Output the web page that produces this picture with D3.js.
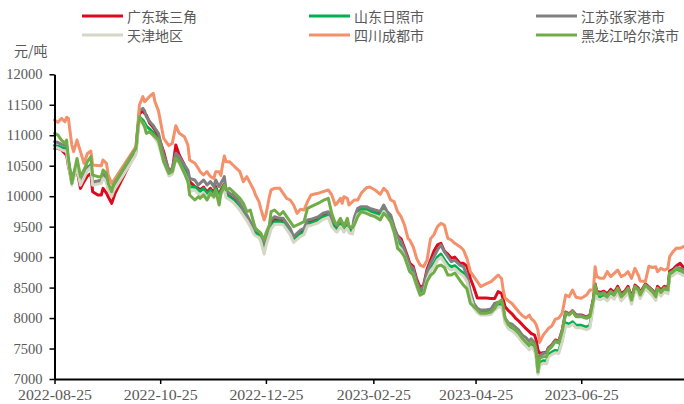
<!DOCTYPE html>
<html><head><meta charset="utf-8">
<script src="https://cdn.jsdelivr.net/npm/d3@7"></script>
<style>body{margin:0;background:#fff;} svg{display:block;}</style>
</head><body><svg id="c" width="684" height="404"></svg>
<script>
const dates = [
"2022-08-25","2022-08-27","2022-08-29","2022-08-31","2022-09-01","2022-09-02","2022-09-04","2022-09-05","2022-09-07","2022-09-09","2022-09-11","2022-09-13","2022-09-15","2022-09-16","2022-09-19","2022-09-21","2022-09-22","2022-09-24","2022-09-25","2022-09-27","2022-09-28","2022-09-29","2022-10-11","2022-10-12","2022-10-13","2022-10-15","2022-10-16","2022-10-17","2022-10-19","2022-10-21","2022-10-22","2022-10-24","2022-10-27","2022-10-30","2022-11-01","2022-11-03","2022-11-05","2022-11-08","2022-11-10","2022-11-11","2022-11-14","2022-11-16",
"2022-11-17","2022-11-19","2022-11-21","2022-11-23","2022-11-25","2022-11-26","2022-11-28","2022-11-29","2022-11-30","2022-12-01","2022-12-02","2022-12-04","2022-12-06","2022-12-08","2022-12-10","2022-12-12","2022-12-14","2022-12-16","2022-12-18","2022-12-19","2022-12-21","2022-12-22","2022-12-24","2022-12-25","2022-12-27","2022-12-28","2022-12-30","2023-01-02","2023-01-04","2023-01-06","2023-01-08","2023-01-10","2023-01-12","2023-01-14","2023-01-16","2023-01-18","2023-01-20","2023-01-24","2023-01-27","2023-01-30","2023-02-01","2023-02-03","2023-02-04","2023-02-06","2023-02-07","2023-02-08","2023-02-10","2023-02-11","2023-02-13",
"2023-02-14","2023-02-16","2023-02-18","2023-02-21","2023-02-23","2023-02-26","2023-03-01","2023-03-03","2023-03-05","2023-03-07","2023-03-09","2023-03-11","2023-03-13","2023-03-15","2023-03-17","2023-03-18","2023-03-20","2023-03-22","2023-03-24","2023-03-26","2023-03-28","2023-03-30","2023-04-01","2023-04-03","2023-04-05","2023-04-07","2023-04-09","2023-04-11","2023-04-13","2023-04-16","2023-04-18","2023-04-20","2023-04-22","2023-04-24","2023-04-26","2023-04-28","2023-05-01","2023-05-04","2023-05-06","2023-05-08",
"2023-05-10","2023-05-11","2023-05-12","2023-05-14","2023-05-16","2023-05-18","2023-05-20","2023-05-22","2023-05-24","2023-05-26","2023-05-27","2023-05-29","2023-05-30","2023-05-31","2023-06-01","2023-06-03","2023-06-05","2023-06-06","2023-06-08","2023-06-10","2023-06-12","2023-06-14","2023-06-16","2023-06-18","2023-06-20","2023-06-22","2023-06-25","2023-06-28","2023-06-30","2023-07-02","2023-07-03","2023-07-04","2023-07-06","2023-07-08","2023-07-10","2023-07-12","2023-07-14","2023-07-16","2023-07-18","2023-07-20","2023-07-22","2023-07-24","2023-07-26","2023-07-28","2023-07-29","2023-08-01","2023-08-03","2023-08-05","2023-08-07","2023-08-08","2023-08-10","2023-08-12","2023-08-14","2023-08-15","2023-08-17","2023-08-19","2023-08-21","2023-08-23"
];
const guangdong = [
10785,10785,10760,10700,10675,10500,10238,10320,10429,10128,10238,10330,10374,10074,10019,10019,10128,10050,9991,9882,9964,10050,10730,11050,11350,11400,11359,11332,11195,11130,11086,10976,10730,10402,10420,10840,10675,10511,10347,10238,10156,10128,
10102,10150,10070,10130,10050,10160,10000,10100,10150,10200,10050,10000,9960,9900,9830,9740,9660,9560,9450,9420,9380,9330,9144,9250,9420,9560,9620,9600,9600,9520,9430,9290,9340,9400,9430,9570,9580,9620,9680,9700,9560,9480,9460,9560,9520,9470,9540,9460,9440,
9610,9760,9790,9790,9770,9740,9720,9820,9720,9660,9470,9350,9300,9150,8990,8900,8850,8640,8500,8540,8800,8950,9100,9200,9226,9100,9050,8980,9000,8900,8898,8850,8650,8500,8330,8330,8330,8320,8320,8433,
8406,8300,8187,8120,8070,8000,7950,7890,7830,7777,7750,7722,7640,7476,7420,7430,7440,7510,7560,7640,7620,7800,8100,8070,8120,8050,8050,8020,8050,8320,8560,8440,8420,8440,8400,8470,8420,8520,8400,8440,8520,8340,8540,8490,8420,8560,8510,8460,8400,8520,8460,8520,8500,8770,8800,8860,8900,8830
];
const shandong = [
10830,10820,10800,10790,10780,10550,10220,10330,10480,10200,10330,10450,10520,10200,10230,10240,10340,10260,10130,10030,10120,10170,10730,11050,11300,11250,11200,11150,11100,11040,11000,10900,10620,10380,10400,10640,10580,10430,10300,10150,10150,10100,
10080,10130,10040,10100,10020,10130,9990,10080,10130,10180,10020,9990,9940,9880,9810,9720,9650,9550,9430,9400,9360,9300,9100,9220,9400,9500,9580,9580,9570,9500,9410,9280,9330,9380,9410,9550,9560,9600,9660,9690,9540,9470,9450,9540,9500,9450,9520,9440,9420,
9580,9740,9780,9780,9750,9720,9690,9790,9700,9620,9440,9250,9180,9060,8900,8820,8760,8560,8420,8460,8680,8820,8900,9000,9050,8960,8880,8840,8860,8780,8740,8650,8400,8220,8140,8100,8100,8110,8180,8230,
8220,8120,7960,7860,7830,7780,7720,7640,7580,7520,7570,7510,7380,7100,7260,7300,7290,7400,7440,7470,7460,7650,7920,7900,7940,7880,7880,7850,7880,8250,8480,8360,8340,8370,8320,8400,8350,8460,8320,8380,8460,8270,8490,8440,8360,8520,8470,8410,8330,8470,8400,8470,8440,8710,8740,8790,8770,8740
];
const jiangsu = [
10894,10880,10850,10839,10830,10600,10238,10374,10538,10238,10330,10480,10500,10238,10250,10265,10374,10292,10183,10101,10183,10220,10757,11100,11400,11441,11400,11304,11222,11160,11113,11031,10675,10429,10456,10703,10648,10511,10429,10292,10265,10183,
10211,10266,10184,10238,10156,10266,10156,10211,10260,10320,10102,10047,10020,9965,9883,9773,9691,9580,9472,9445,9418,9390,9226,9336,9500,9609,9664,9636,9636,9554,9472,9336,9390,9445,9472,9609,9620,9660,9720,9746,9600,9560,9520,9609,9570,9520,9582,9500,9480,
9650,9800,9828,9828,9800,9773,9750,9855,9746,9691,9500,9336,9254,9117,8953,8870,8816,8597,8460,8515,8760,8898,9007,9117,9199,9089,9007,8925,8950,8870,8843,8706,8433,8241,8159,8132,8132,8150,8241,8260,
8250,8150,8000,7920,7900,7850,7800,7720,7680,7620,7660,7600,7480,7250,7380,7420,7430,7500,7550,7630,7610,7790,8090,8060,8110,8040,8040,8010,8040,8300,8520,8420,8400,8420,8370,8440,8400,8490,8370,8420,8490,8320,8520,8470,8400,8540,8500,8450,8380,8490,8440,8500,8480,8740,8770,8830,8820,8790
];
const tianjin = [
10800,10790,10760,10740,10730,10520,10180,10300,10460,10180,10300,10420,10480,10180,10200,10210,10300,10230,10100,10000,10080,10130,10680,11000,11250,11200,11150,11050,11050,10990,10950,10860,10560,10330,10360,10600,10540,10380,10250,10080,10100,10040,
10000,10060,9980,10050,9970,10080,9930,10020,10070,10120,9980,9940,9900,9840,9770,9680,9600,9500,9380,9350,9320,9260,9050,9180,9360,9460,9540,9540,9530,9450,9370,9240,9290,9340,9370,9510,9520,9560,9620,9650,9500,9430,9410,9500,9460,9410,9480,9400,9380,
9540,9700,9740,9740,9710,9680,9650,9750,9660,9580,9400,9200,9130,9010,8850,8770,8710,8510,8370,8410,8630,8770,8850,8950,9000,8910,8830,8790,8810,8730,8690,8600,8350,8170,8090,8050,8050,8060,8130,8180,
8180,8080,7920,7820,7790,7740,7680,7600,7540,7480,7530,7470,7340,7080,7220,7260,7250,7360,7400,7430,7420,7610,7880,7860,7900,7840,7840,7810,7840,8210,8440,8320,8300,8330,8280,8360,8310,8420,8280,8340,8420,8230,8450,8400,8320,8480,8430,8370,8290,8430,8360,8430,8400,8670,8700,8750,8730,8700
];
const sichuan = [
11250,11211,11277,11222,11293,11277,10839,10730,10921,10730,10540,10700,10740,10511,10505,10500,10593,10538,10347,10210,10249,10292,10812,11113,11496,11633,11550,11580,11640,11687,11550,11400,10950,10830,10867,11157,11031,10976,10839,10593,10540,10457,
10402,10348,10402,10320,10293,10402,10402,10340,10512,10659,10566,10566,10512,10457,10402,10238,10320,10211,10102,10020,9910,9801,9609,9691,9992,10102,10129,10129,10047,9965,9937,9855,9719,9784,9773,9910,10020,10047,10074,10102,10020,9855,9883,9965,9883,9992,9965,9855,9910,
9937,9937,10047,10140,10150,10101,10030,10129,10074,9937,9910,9746,9664,9527,9308,9281,9171,8980,8870,8843,8950,9300,9370,9500,9554,9527,9308,9281,9226,9171,9117,8980,8761,8679,8597,8515,8560,8597,8652,8706,
8650,8450,8330,8280,8240,8170,8100,8040,8000,8050,7995,7941,7890,7800,7600,7720,7790,7830,7870,7980,8000,8080,8378,8351,8460,8340,8324,8378,8460,8460,8843,8679,8652,8652,8761,8680,8734,8788,8680,8707,8761,8652,8816,8700,8610,8600,8850,8830,8843,8761,8816,8788,8816,9007,9090,9150,9144,9172
];
const heilongjiang = [
11031,11003,10921,10867,10921,10620,10210,10347,10620,10320,10429,10566,10648,10347,10320,10320,10429,10374,10210,10074,10183,10238,10785,11113,11304,11195,11140,11031,11058,11000,10976,10921,10566,10374,10402,10620,10560,10374,10238,10019,9937,9991,
9965,10020,9937,10047,9992,10102,9855,10047,10100,10184,10102,10129,10074,10020,9965,9883,9746,9773,9560,9472,9420,9390,9281,9390,9527,9746,9773,9691,9746,9664,9582,9500,9527,9554,9582,9801,9830,9880,9930,9965,9719,9554,9540,9636,9570,9500,9636,9500,9480,
9530,9664,9746,9718,9691,9664,9609,9718,9664,9582,9418,9144,9089,9007,8843,8761,8706,8542,8378,8406,8600,8700,8750,8850,8870,8830,8706,8706,8740,8620,8540,8480,8240,8187,8132,8077,8077,8100,8159,8250,
8300,8187,7995,7886,7859,7804,7749,7667,7612,7558,7612,7558,7421,7120,7339,7366,7366,7476,7530,7612,7590,7777,8077,8050,8105,8023,8023,7995,8023,8296,8542,8406,8378,8406,8351,8433,8378,8488,8351,8406,8488,8296,8515,8460,8378,8542,8488,8433,8351,8488,8420,8488,8460,8734,8761,8816,8788,8761
];
const seriesNames = ["广东珠三角","山东日照市","江苏张家港市","天津地区","四川成都市","黑龙江哈尔滨市"];
const yTicks = [7000,7500,8000,8500,9000,9500,10000,10500,11000,11500,12000];
const xTickLabels = ["2022-08-25","2022-10-25","2022-12-25","2023-02-25","2023-04-25","2023-06-25"];
const unitLabel = "元/吨";

const seriesValues = [guangdong, shandong, jiangsu, tianjin, sichuan, heilongjiang];
const colors = ["#DD0A1E","#00B050","#808080","#D3D7C3","#F4906A","#70AD47"];
const textColor = "#595959";
const numFont = "'Liberation Serif', 'DejaVu Serif', serif";
const cjkFont = "'Noto Sans CJK SC', 'Noto Sans', sans-serif";

const parse = d3.timeParse("%Y-%m-%d");
const dateObjs = dates.map(parse);
const x = d3.scaleTime().domain(d3.extent(dateObjs)).range([54.5, 683.5]);
const y = d3.scaleLinear().domain([7000, 12000]).range([379, 74.3]);

const svg = d3.select("#c");

// lines
const line = d3.line().x(d => x(d[0])).y(d => y(d[1]));
seriesValues.forEach((vals, i) => {
  const pts = dateObjs.map((d, j) => [d, vals[j]]);
  svg.append("path")
    .datum(pts)
    .attr("d", line)
    .attr("fill", "none")
    .attr("stroke", colors[i])
    .attr("stroke-width", 3)
    .attr("stroke-linejoin", "round")
    .attr("stroke-linecap", "round");
});

// y axis
const yAxis = svg.append("g")
  .attr("transform", "translate(54.5,0)")
  .call(d3.axisLeft(y).tickValues(yTicks).tickFormat(d3.format("d")).tickSize(5).tickSizeOuter(0).tickPadding(7));
yAxis.select(".domain").attr("stroke", "#000").attr("stroke-width", 2);
yAxis.selectAll(".tick line").attr("stroke", "#000").attr("stroke-width", 1.5);
yAxis.selectAll("text").attr("fill", textColor).style("font-family", numFont).style("font-size", "14.5px");

// x axis
const xAxis = svg.append("g")
  .attr("transform", "translate(0,379)")
  .call(d3.axisBottom(x).tickValues(xTickLabels.map(parse)).tickFormat((d, i) => xTickLabels[i]).tickSize(5).tickSizeOuter(0).tickPadding(6));
xAxis.select(".domain").attr("stroke", "#000").attr("stroke-width", 2);
xAxis.selectAll(".tick line").attr("stroke", "#000").attr("stroke-width", 1.5);
xAxis.selectAll("text").attr("fill", textColor).style("font-family", numFont).style("font-size", "14px")
  .attr("textLength", 74).attr("lengthAdjust", "spacingAndGlyphs");

// unit label
svg.append("text").attr("x", 14).attr("y", 50).attr("dominant-baseline", "central")
  .attr("fill", textColor).style("font-family", cjkFont).style("font-size", "14px").text(unitLabel);

// legend
const legX = [82, 309, 536];
const legY = [16, 35];
seriesNames.forEach((name, i) => {
  const cx = legX[i % 3], cy = legY[Math.floor(i / 3)];
  svg.append("line").attr("x1", cx).attr("x2", cx + 41).attr("y1", cy).attr("y2", cy)
    .attr("stroke", colors[i]).attr("stroke-width", 3);
  svg.append("text").attr("x", cx + 45).attr("y", cy).attr("dominant-baseline", "central")
    .attr("fill", textColor).style("font-family", cjkFont).style("font-size", "14px").text(name);
});
</script>
</body></html>
